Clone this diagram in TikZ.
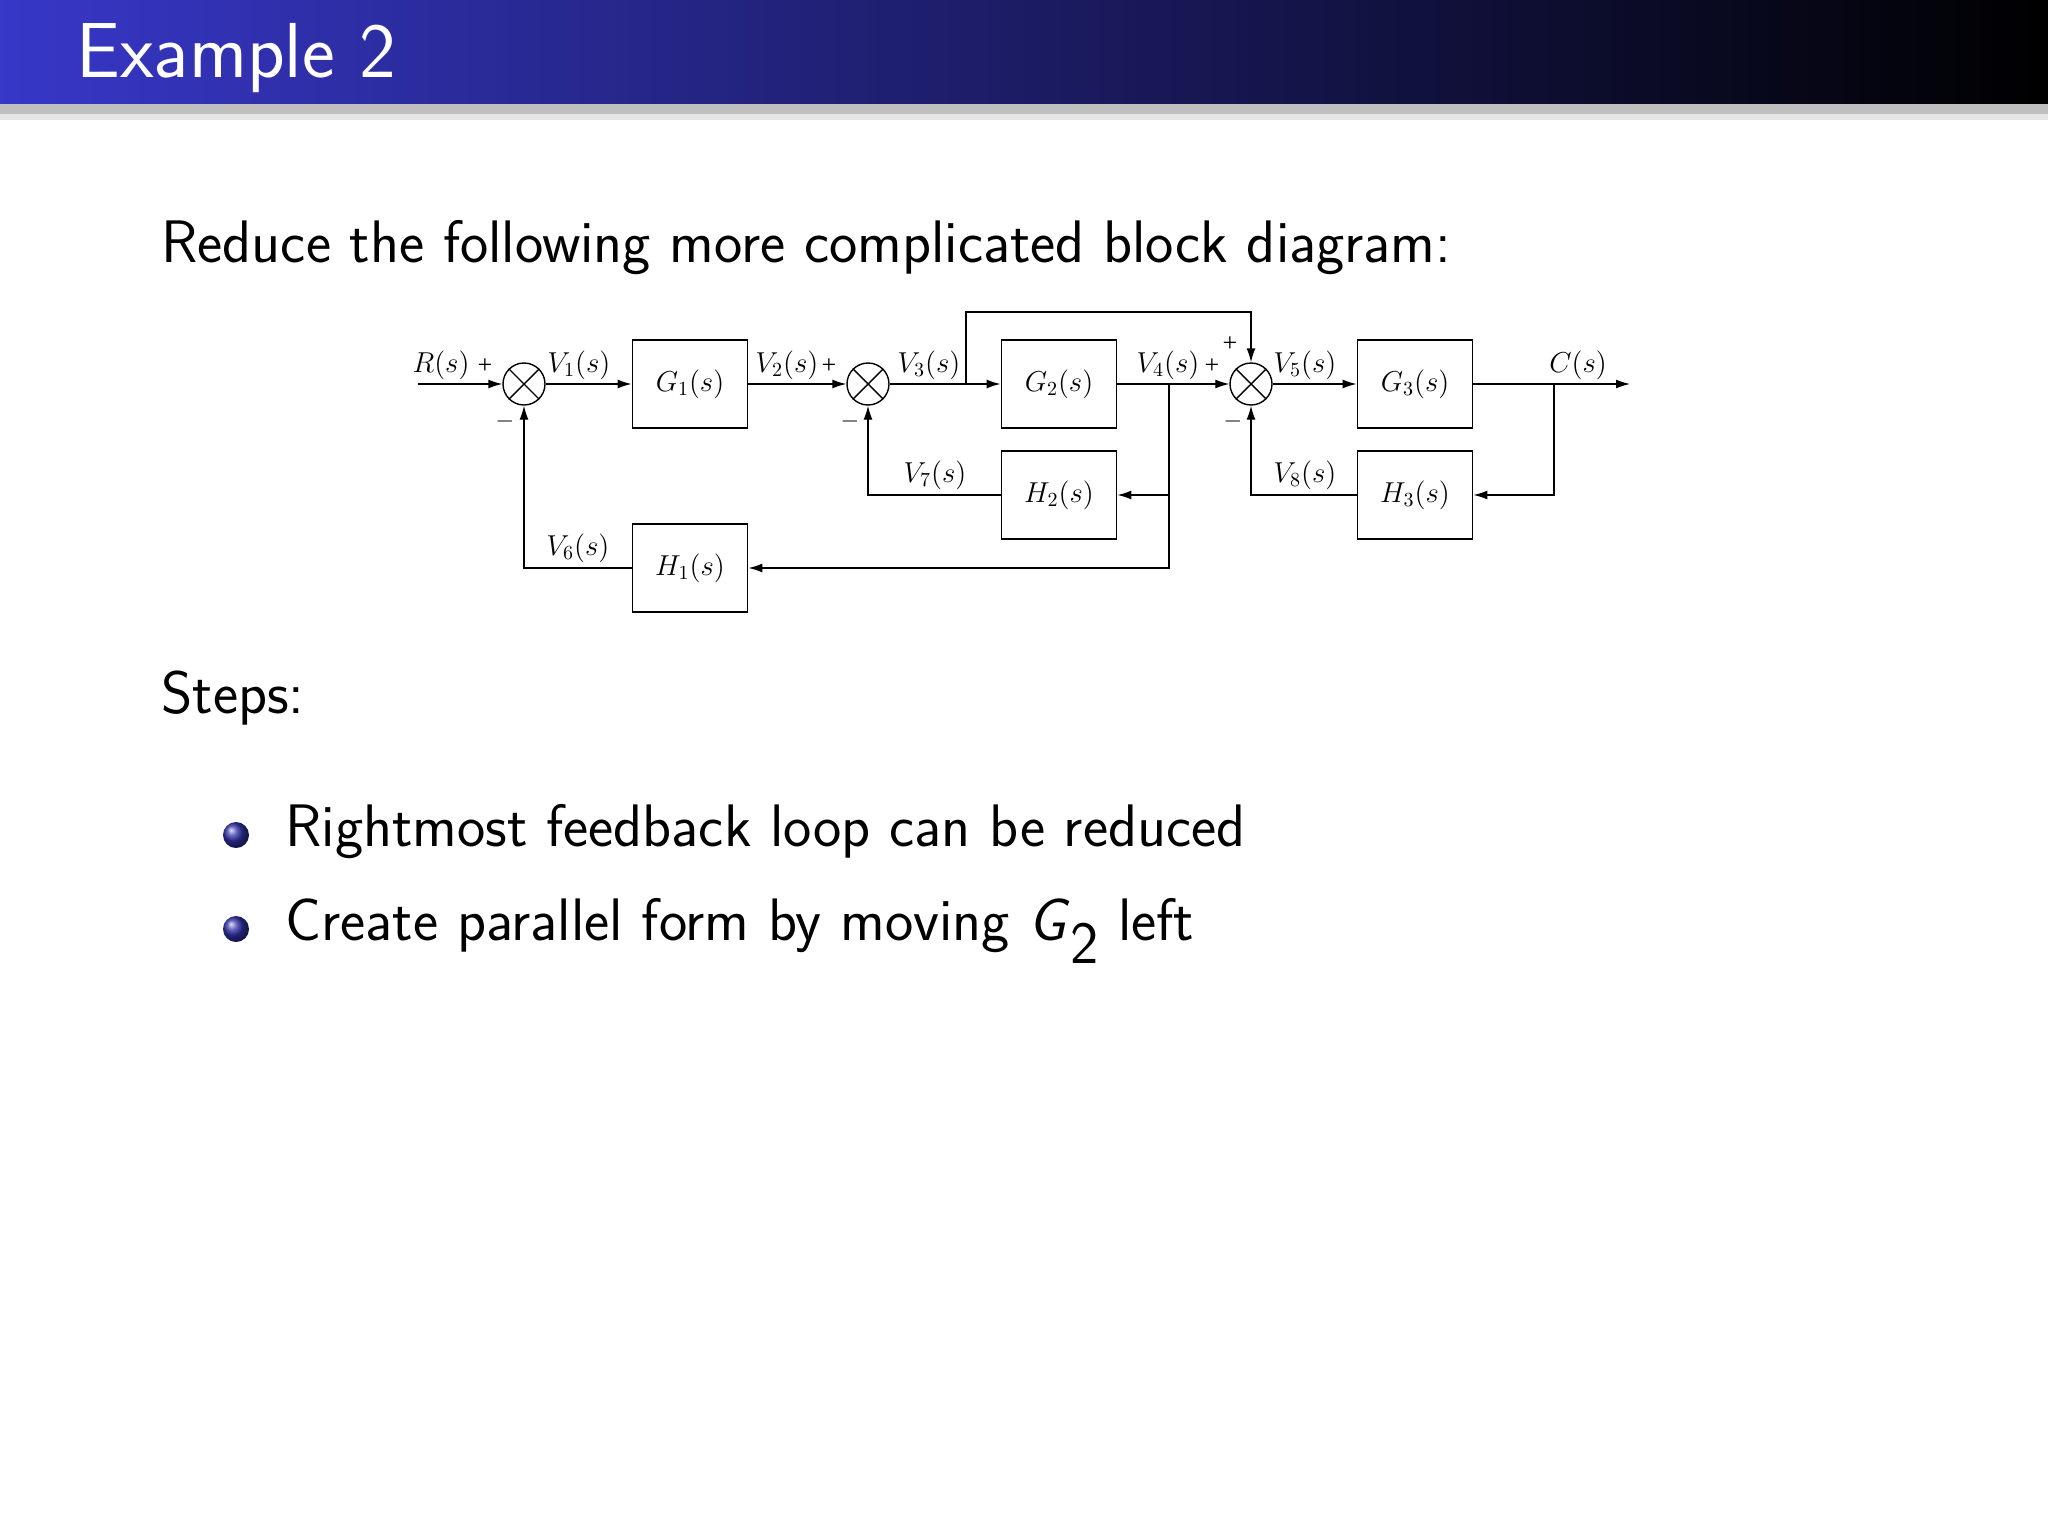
\documentclass[tikz,border=0pt]{standalone}
\usepackage{fontspec}
\newfontfamily\tms{Liberation Serif}
\usetikzlibrary{arrows.meta,shadings}
\begin{document}
\begin{tikzpicture}[x=0.5pt,y=-0.5pt,
  blk/.style={draw,line width=0.9pt,minimum width=57.5pt,minimum height=44pt,inner sep=0pt,font=\tms\fontsize{14}{16}\selectfont\itshape},
  sumj/.style={draw,circle,minimum size=21pt,inner sep=0pt,line width=0.7pt},
  ln/.style={line width=0.7pt},
  ar/.style={line width=0.7pt,-{Latex[length=7pt,width=4.5pt]}},
  lb/.style={font=\tms\fontsize{14}{16}\selectfont\itshape,inner sep=1pt},
  sg/.style={font=\tms\fontsize{13}{14}\selectfont,inner sep=1pt},
  txt/.style={font=\sffamily\fontsize{30}{36}\selectfont,anchor=base west,inner sep=0pt}]
\useasboundingbox (0,0) rectangle (2048,1536);
\fill[white] (0,0) rectangle (2048,1536);
% title bar
\fill[black!25] (0,104) rectangle (2048,114);
\fill[black!10] (0,114) rectangle (2048,120);
\shade[left color={rgb,255:red,55;green,55;blue,200}, right color=black] (0,0) rectangle (2048,104);
\node[anchor=base west,inner sep=0pt,text=white,font=\sffamily\fontsize{39}{44}\selectfont] (title) at (76,78) {Example 2};
\node[txt] (intro) at (161,262) {Reduce the following more complicated block diagram:};
\node[txt] (steps) at (161,713) {Steps:};
\shade[ball color={rgb,255:red,50;green,50;blue,170}] (236,835) circle (13);
\node[txt] (b1) at (285,846) {Rightmost feedback loop can be reduced};
\shade[ball color={rgb,255:red,50;green,50;blue,170}] (236,929) circle (13);
\node[txt] (b2) at (285,940) {Create parallel form by moving \textit{G}\textsubscript{\fontsize{30}{36}\selectfont 2} left};
% diagram
\node[sumj] (s1) at (524,384) {};
\node[sumj] (s2) at (868,384) {};
\node[sumj] (s3) at (1251,384) {};
\foreach \s in {s1,s2,s3}{
 \draw[ln] (\s.north west)--(\s.south east) (\s.north east)--(\s.south west);}
\node[blk] (g1) at (690,384) {$G_1(s)$};
\node[blk] (g2) at (1059,384) {$G_2(s)$};
\node[blk] (g3) at (1415,384) {$G_3(s)$};
\node[blk] (h2) at (1059,495) {$H_2(s)$};
\node[blk] (h3) at (1415,495) {$H_3(s)$};
\node[blk] (h1) at (690,568) {$H_1(s)$};
\coordinate (in) at (418,384);
\coordinate (out) at (1630,384);
\coordinate (b3) at (966,384);
\coordinate (b3t) at (966,312);
\coordinate (b4) at (1169,384);
\coordinate (bc) at (1554,384);
\draw[ar] (in)--(s1);
\draw[ar] (s1)--(g1);
\draw[ar] (g1)--(s2);
\draw[ar] (s2)--(g2);
\draw[ar] (g2)--(s3);
\draw[ar] (s3)--(g3);
\draw[ar] (g3)--(out);
\draw[ar] (b3)--(b3t)-|(s3);
\draw[ar] (b4)|-(h2);
\draw[ar] (b4)|-(h1);
\draw[ar] (h2)-|(s2);
\draw[ar] (h1)-|(s1);
\draw[ar] (bc)|-(h3);
\draw[ar] (h3)-|(s3);
% labels
\node[lb] (lr) at (441,365) {$R(s)$};
\node[sg] at (485,366) {+};
\node[lb] at (579,365) {$V_1(s)$};
\node[lb] at (787,365) {$V_2(s)$};
\node[sg] at (829,366) {+};
\node[lb] at (929,365) {$V_3(s)$};
\node[lb] at (1168,365) {$V_4(s)$};
\node[sg] at (1212,366) {+};
\node[sg] at (1230,344) {+};
\node[lb] at (1305,365) {$V_5(s)$};
\node[lb] at (1578,365) {$C(s)$};
\node[sg] at (505,421) {$-$};
\node[sg] at (850,421) {$-$};
\node[sg] at (1233,421) {$-$};
\node[lb] at (935,475) {$V_7(s)$};
\node[lb] at (1305,475) {$V_8(s)$};
\node[lb] at (578,548) {$V_6(s)$};
\end{tikzpicture}
\end{document}
